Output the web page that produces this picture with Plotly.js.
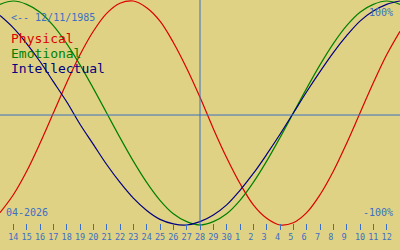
<!DOCTYPE html>
<html>
<head>
<meta charset="utf-8">
<script src="https://cdn.plot.ly/plotly-3.0.1.min.js"></script>
<style>html,body{margin:0;padding:0;background:#e0d284;}#chart{width:400px;height:250px;}</style>
</head>
<body>
<div id="chart"></div>
<script>
// Days shown (April 13 – May 13, 2026)
const dates = ['2026-04-13','2026-04-14','2026-04-15','2026-04-16','2026-04-17','2026-04-18','2026-04-19','2026-04-20','2026-04-21','2026-04-22','2026-04-23','2026-04-24','2026-04-25','2026-04-26','2026-04-27','2026-04-28','2026-04-29','2026-04-30','2026-05-01','2026-05-02','2026-05-03','2026-05-04','2026-05-05','2026-05-06','2026-05-07','2026-05-08','2026-05-09','2026-05-10','2026-05-11','2026-05-12','2026-05-13'];
const physical = [-0.89,-0.73,-0.52,-0.27,0,0.27,0.52,0.73,0.89,0.98,1.00,0.94,0.82,0.63,0.40,0.14,-0.14,-0.40,-0.63,-0.82,-0.94,-1.00,-0.98,-0.89,-0.73,-0.52,-0.27,0,0.27,0.52,0.73];
const emotional = [0.97,1.00,0.97,0.90,0.78,0.62,0.43,0.22,0,-0.22,-0.43,-0.62,-0.78,-0.90,-0.97,-1.00,-0.97,-0.90,-0.78,-0.62,-0.43,-0.22,0,0.22,0.43,0.62,0.78,0.90,0.97,1.00,0.97];
const intellectual = [0.87,0.76,0.62,0.46,0.28,0.10,-0.10,-0.28,-0.46,-0.62,-0.76,-0.87,-0.95,-0.99,-1.00,-0.97,-0.91,-0.82,-0.69,-0.54,-0.37,-0.19,0,0.19,0.37,0.54,0.69,0.82,0.91,0.97,1.00];
const tickDates = ['2026-04-14','2026-04-15','2026-04-16','2026-04-17','2026-04-18','2026-04-19','2026-04-20','2026-04-21','2026-04-22','2026-04-23','2026-04-24','2026-04-25','2026-04-26','2026-04-27','2026-04-28','2026-04-29','2026-04-30','2026-05-01','2026-05-02','2026-05-03','2026-05-04','2026-05-05','2026-05-06','2026-05-07','2026-05-08','2026-05-09','2026-05-10','2026-05-11','2026-05-12'];
const tickLabels = ['14','15','16','17','18','19','20','21','22','23','24','25','26','27','28','29','30','1','2','3','4','5','6','7','8','9','10','11','12'];
const today = '2026-04-28';
const birthLabel = '<-- 12/11/1985';
const monthLabel = '04-2026';
const seriesNames = ['Physical','Emotional','Intellectual'];
const seriesColors = ['#dc0000','#008000','#000080'];

const blue = '#3b6fc4';
const mono = 'DejaVu Sans Mono, monospace';
const series = [physical, emotional, intellectual];
const traces = series.map((v,i)=>({
  x: dates, y: v, type:'scatter', mode:'lines', name: seriesNames[i],
  line:{color: seriesColors[i], width:1.2, shape:'spline'}, hoverinfo:'skip'
}));

// single-digit day labels sit left of their tick, like two-character cells
const paddedTicks = tickLabels.map(t => t.length < 2 ? t + '\u00a0' : t);

const H = 230;
function py(px){ return 1 - px/H; }
const annotations = [
  {text: birthLabel.replace('<','&lt;'), x:9/400, y:py(17.5), xanchor:'left', yanchor:'middle', font:{family:mono,size:10,color:blue}},
  {text: seriesNames[0], x:9/400, y:py(38.5), xanchor:'left', yanchor:'middle', font:{family:mono,size:13,color:seriesColors[0]}},
  {text: seriesNames[1], x:9/400, y:py(53.5), xanchor:'left', yanchor:'middle', font:{family:mono,size:13,color:seriesColors[1]}},
  {text: seriesNames[2], x:9/400, y:py(68.5), xanchor:'left', yanchor:'middle', font:{family:mono,size:13,color:seriesColors[2]}},
  {text: '100%', x:395/400, y:py(12.5), xanchor:'right', yanchor:'middle', font:{family:mono,size:10,color:blue}},
  {text: '-100%', x:395/400, y:py(212.5), xanchor:'right', yanchor:'middle', font:{family:mono,size:10,color:blue}},
  {text: monthLabel, x:4/400, y:py(212.5), xanchor:'left', yanchor:'middle', font:{family:mono,size:10,color:blue}}
].map(a=>Object.assign({xref:'paper', yref:'paper', showarrow:false}, a));

const layout = {
  width:400, height:250,
  margin:{l:0, r:0, t:0, b:20, pad:0},
  paper_bgcolor:'#e0d284', plot_bgcolor:'#e0d284',
  showlegend:false,
  xaxis:{type:'date', range:['2026-04-13','2026-05-13'], tickvals: tickDates, ticktext: paddedTicks, tickangle:0,
    ticks:'inside', ticklen:6, tickwidth:1, tickcolor: blue, showgrid:false, zeroline:false, showline:false,
    tickfont:{family:mono, size:8.5, color:blue}, fixedrange:true},
  yaxis:{range:[-1.0446, 1.0089], visible:false, fixedrange:true},
  shapes:[
    {type:'line', xref:'paper', yref:'y', x0:0, x1:1, y0:-0.018, y1:-0.018, line:{color:blue, width:1}},
    {type:'line', xref:'x', yref:'paper', x0:today, x1:today, y0:py(226), y1:1, line:{color:blue, width:1}}
  ],
  annotations: annotations
};
Plotly.newPlot('chart', traces, layout, {staticPlot:true, displayModeBar:false});
</script>
</body>
</html>
